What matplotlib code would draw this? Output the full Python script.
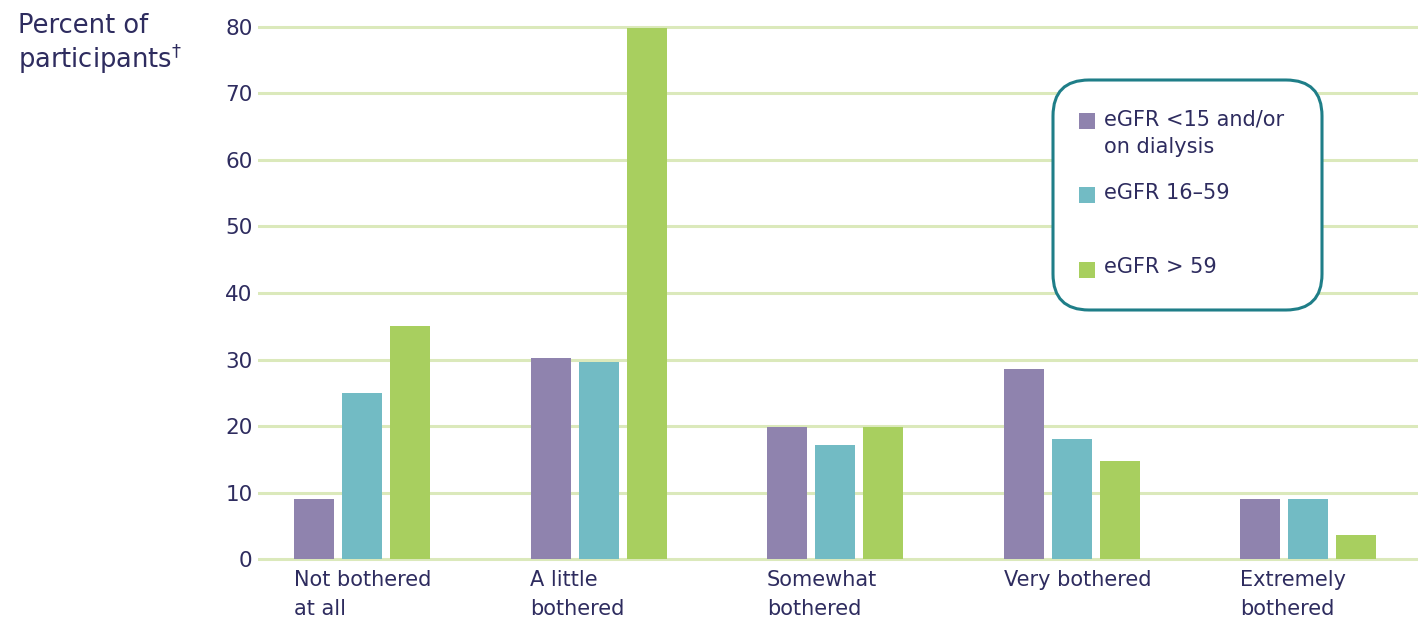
import matplotlib
matplotlib.use('Agg')
import matplotlib.pyplot as plt
import numpy as np
from matplotlib.patches import FancyBboxPatch, Rectangle

categories = ['Not bothered\nat all', 'A little\nbothered', 'Somewhat\nbothered',
              'Very bothered', 'Extremely\nbothered']
series_names = ['eGFR <15 and/or\non dialysis', 'eGFR 16\u201359', 'eGFR > 59']
dialysis = [9.0, 30.2, 19.9, 28.6, 9.0]
egfr_mid = [25.0, 29.6, 17.1, 18.0, 9.0]
egfr_high = [35.0, 79.8, 19.9, 14.7, 3.6]
yticks = [0, 10, 20, 30, 40, 50, 60, 70, 80]

colors = ['#8f83ae', '#72bbc4', '#a8cf5f']
text_col = '#2e2c5f'
grid_col = '#dbe9bb'
edge_col = '#1f7e88'

plt.rcParams['font.family'] = ['DejaVu Sans']

fig = plt.figure(figsize=(14.18, 6.22), dpi=100)
ax = fig.add_axes([258 / 1418, 57 / 622, 1 - 258 / 1418, 545 / 622])

x = np.arange(len(categories))
step = 48 / 236.5
width = 40 / 236.5
for k, vals in enumerate([dialysis, egfr_mid, egfr_high]):
    ax.bar(x + (k - 1) * step, vals, width=width, color=colors[k], zorder=3)

ax.set_xlim(-104 / 236.5, 1056 / 236.5)
ax.set_ylim(-0.9, 81.05)
ax.set_yticks(yticks)
ax.set_yticklabels([str(t) for t in yticks], fontsize=15.5, color=text_col)
ax.set_xticks([])
ax.tick_params(axis='y', length=0, pad=4)
ax.yaxis.grid(True, color=grid_col, linewidth=2.2)
ax.set_axisbelow(True)
for s in ax.spines.values():
    s.set_visible(False)

for i, lab in enumerate(categories):
    ax.text(x[i] - step - width / 2, -1.6, lab, ha='left', va='top',
            fontsize=15, color=text_col, linespacing=1.6, clip_on=False)

fig.text(18 / 1418, 1 - 13 / 622, 'Percent of\nparticipants$^\\dag$', ha='left', va='top',
         fontsize=18.5, color=text_col, linespacing=1.1)

# legend box, drawn in inches so the corners stay round
tr = fig.dpi_scale_trans
box = FancyBboxPatch((10.53, 3.12), 2.69, 2.30, boxstyle='round,pad=0,rounding_size=0.36',
                     transform=tr, facecolor='white', edgecolor=edge_col, linewidth=2.2, zorder=5)
fig.patches.append(box)
sq_y = [121, 195, 270]
txt_y = [133, 193, 267]
for k in range(3):
    fig.patches.append(Rectangle((10.79, (622 - sq_y[k] - 8) / 100), 0.16, 0.16, transform=tr,
                                 facecolor=colors[k], edgecolor='none', zorder=6))
    fig.text(11.04, (622 - txt_y[k]) / 100, series_names[k], transform=tr, ha='left', va='center',
             fontsize=15, color=text_col, linespacing=1.5, zorder=7)

fig.savefig('out.png', dpi=100)
